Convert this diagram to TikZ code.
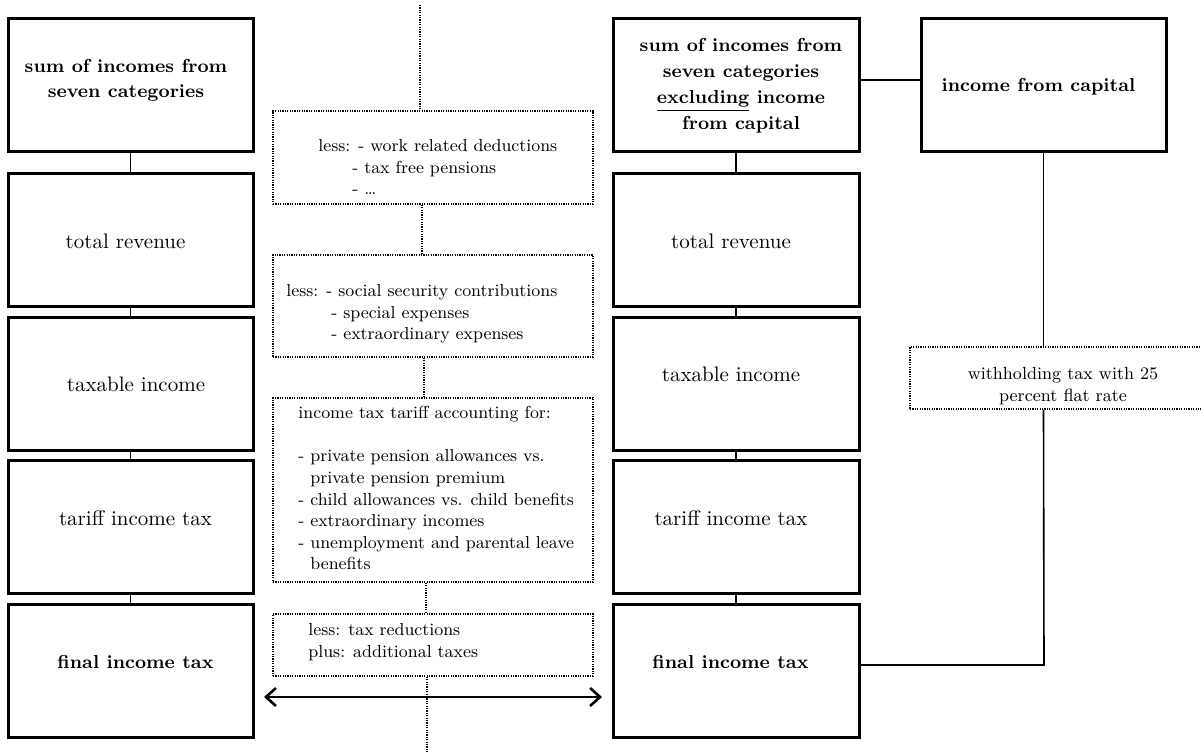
\documentclass[tikz,border=0pt]{standalone}
\usetikzlibrary{arrows.meta,calc}
\begin{document}
\begin{tikzpicture}[x=0.5pt,y=-0.5pt,
  mainbox/.style={draw, line width=1.5pt, minimum width=122.5pt, minimum height=66.5pt, inner sep=0pt},
  dotbox/.style={draw, line width=0.8pt, dash pattern=on 0.6pt off 0.6pt, inner sep=0pt},
  spine/.style={line width=0.8pt, dash pattern=on 0.6pt off 0.6pt},
  conn/.style={line width=0.8pt},
  rtext/.style={inner sep=0pt, font=\fontsize{10.5}{13}\selectfont},
  btext/.style={inner sep=0pt, align=center, font=\fontsize{9.4}{12.6}\selectfont\bfseries},
  stext/.style={inner sep=0pt, align=left, anchor=north west, font=\fontsize{8.7}{10.8}\selectfont},
  arr/.style={line width=1.3pt, {Straight Barb[length=5pt,width=9pt]}-{Straight Barb[length=5pt,width=9pt]}}
]
\useasboundingbox (0,0) rectangle (1201,753);

% left column
\node[mainbox] (L1) at (130.5,85.5) {};
\node[mainbox] (L2) at (130.5,240) {};
\node[mainbox] (L3) at (130.5,384) {};
\node[mainbox] (L4) at (130.5,527) {};
\node[mainbox] (L5) at (130.5,671) {};
\node[btext] (L1t) at (126,80.5) {sum of incomes from\\seven categories};
\node[rtext] (L2t) at (125.5,241) {total revenue};
\node[rtext] (L3t) at (136,384) {taxable income};
\node[rtext] (L4t) at (135.5,518) {tariff income tax};
\node[btext] (L5t) at (135.5,662) {final income tax};
\draw[conn] (L1) -- (L2);
\draw[conn] (L2) -- (L3);
\draw[conn] (L3) -- (L4);
\draw[conn] (L4) -- (L5);

% right column
\node[mainbox, minimum width=123pt] (R1) at (736,85.5) {};
\node[mainbox, minimum width=123pt] (R2) at (736,240) {};
\node[mainbox, minimum width=123pt] (R3) at (736,384) {};
\node[mainbox, minimum width=123pt] (R4) at (736,527) {};
\node[mainbox, minimum width=123pt] (R5) at (736,671) {};
\node[btext, font=\fontsize{9.4}{13}\selectfont\bfseries] (R1t) at (741,86) {sum of incomes from\\seven categories\\\underline{excluding} income\\from capital};
\node[rtext] (R2t) at (731,241) {total revenue};
\node[rtext] (R3t) at (731,374) {taxable income};
\node[rtext] (R4t) at (731,518) {tariff income tax};
\node[btext] (R5t) at (730.5,662) {final income tax};
\draw[conn] (R1) -- (R2);
\draw[conn] (R2) -- (R3);
\draw[conn] (R3) -- (R4);
\draw[conn] (R4) -- (R5);

% capital income
\node[mainbox] (K) at (1043.5,85.5) {};
\node[btext] (Kt) at (1038.5,87) {income from capital};
\draw[conn] ([yshift=2.75pt]R1.east) -- ([yshift=2.75pt]K.west);
\node[dotbox, minimum width=153pt, minimum height=31pt] (W) at (1063,378) {};
\node[inner sep=0pt, align=center, font=\fontsize{8.8}{11}\selectfont] (Wt) at (1063,386) {withholding tax with 25\\percent flat rate};
\coordinate (t) at (1044,665);
\draw[conn] (K.south) -- (K.south |- W.north);
\draw[conn] (K.south |- W.south) -- (t) -- (t -| R5.east);

% middle dotted boxes
\node[dotbox, minimum width=160pt, minimum height=46.5pt] (A) at (433,157.5) {};
\node[dotbox, minimum width=160pt, minimum height=51pt] (B) at (433,306) {};
\node[dotbox, minimum width=160pt, minimum height=92pt] (C) at (433,490) {};
\node[dotbox, minimum width=160pt, minimum height=31pt] (D) at (433,645) {};

\node[stext] (At) at (318,139) {less: - work related deductions\\\hspace{17pt}- tax free pensions\\\hspace{17pt}- \ldots};
\node[stext] (Bt) at (286,284) {less: - social security contributions\\\hspace{22.5pt}- special expenses\\\hspace{22.5pt}- extraordinary expenses};
\node[stext] (Ct) at (298,406) {income tax tariff accounting for:\\[10.8pt]- private pension allowances vs.\\\hspace{6pt}private pension premium\\- child allowances vs. child benefits\\- extraordinary incomes\\- unemployment and parental leave\\\hspace{6pt}benefits};
\node[stext] (Dt) at (308,623) {less: tax reductions\\plus: additional taxes};

\coordinate (s0) at (420,5);
\coordinate (s1) at (422,0);
\coordinate (s2) at (424,0);
\coordinate (s3) at (426,0);
\coordinate (s4) at (427,753);
\draw[spine] (s0) -- (s0 |- A.north);
\draw[spine] (s1 |- A.south) -- (s1 |- B.north);
\draw[spine] (s2 |- B.south) -- (s2 |- C.north);
\draw[spine] (s3 |- C.south) -- (s3 |- D.north);
\draw[spine] (s4 |- D.south) -- (s4);

\coordinate (aL) at (264,697);
\coordinate (aR) at (602,697);
\draw[arr] (aL) -- (aR);
\end{tikzpicture}
\end{document}
